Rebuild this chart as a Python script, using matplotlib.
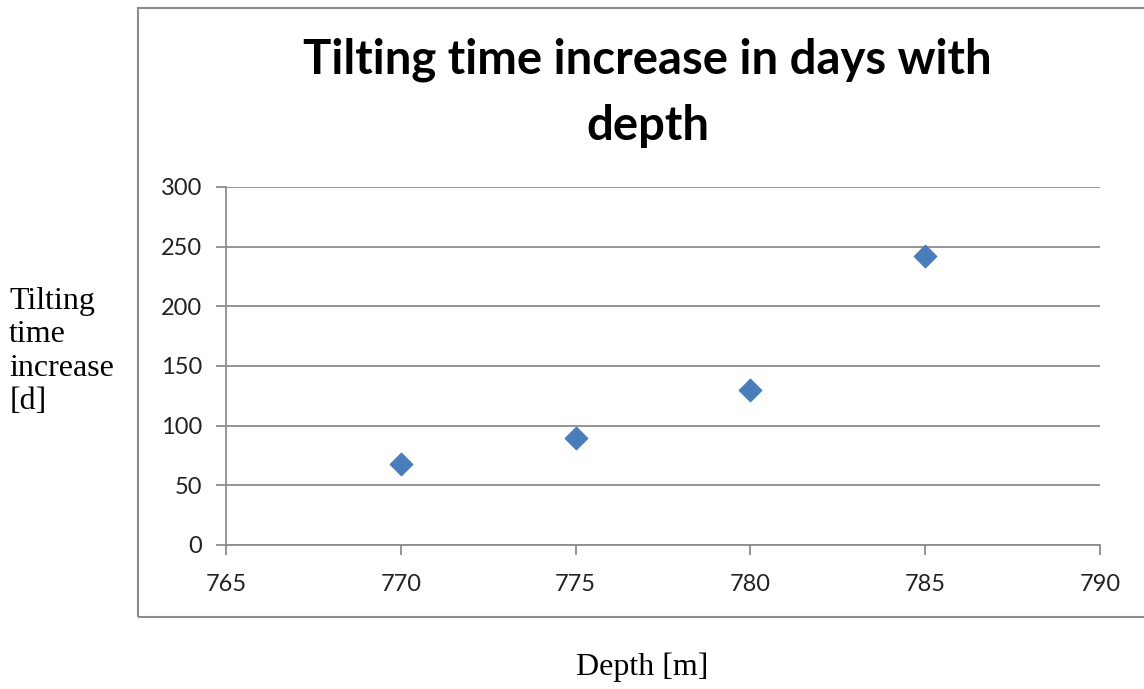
import matplotlib
matplotlib.use("Agg")
import matplotlib.pyplot as plt
from matplotlib.patches import Rectangle

# data
depth = [770, 775, 780, 785]
tilt_increase = [68, 90, 130, 242]
x_ticks = [765, 770, 775, 780, 785, 790]
y_ticks = [0, 50, 100, 150, 200, 250, 300]

fig = plt.figure(figsize=(11.44, 6.89), dpi=100)
ax = fig.add_axes([0.1976, 0.209, 0.7639, 0.5196])

# chart frame like the excel chart area
fig.patches.append(Rectangle((138 / 1144, 1 - 617 / 689), 1.2, (617 - 8) / 689,
                             transform=fig.transFigure, fill=False,
                             edgecolor="#8c8c8c", linewidth=1.5))

ax.scatter(depth, tilt_increase, marker="D", s=130, color="#4a7ebb",
           edgecolors="#4a7ebb", zorder=3)

ax.set_xlim(765, 790)
ax.set_ylim(0, 300)
ax.set_xticks(x_ticks)
ax.set_yticks(y_ticks)
ax.grid(axis="y", color="#8c8c8c", linewidth=1.3)
ax.set_axisbelow(True)
for s in ["top", "right"]:
    ax.spines[s].set_visible(False)
for s in ["left", "bottom"]:
    ax.spines[s].set_color("#8c8c8c")
    ax.spines[s].set_linewidth(1.3)
ax.tick_params(colors="#8c8c8c", length=7, width=1.3, labelcolor="#222222",
               labelsize=17)
ax.tick_params(axis="x", pad=14)
ax.tick_params(axis="y", pad=10)
for lab in ax.get_xticklabels() + ax.get_yticklabels():
    lab.set_family("Lato")

fig.text(0.566, 0.865, "Tilting time increase in days with\ndepth", ha="center",
         va="center", fontsize=34, fontweight="bold", family="Lato",
         linespacing=1.6)

fig.text(0.008, 0.49, "Tilting\ntime\nincrease\n[d]", ha="left", va="center",
         fontsize=23, family="Liberation Serif", linespacing=1.2)
fig.text(0.561, 0.032, "Depth [m]", ha="center", va="center",
         fontsize=23, family="Liberation Serif")

fig.savefig("out.png", dpi=100)
